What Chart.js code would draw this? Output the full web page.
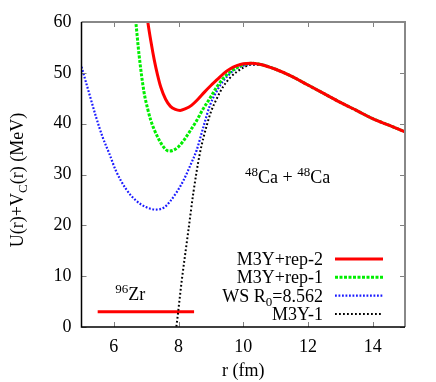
<!DOCTYPE html>
<html>
<head>
<meta charset="utf-8">
<script src="https://cdn.jsdelivr.net/npm/chart.js@4.4.1/dist/chart.umd.min.js"></script>
<style>
  html, body { margin: 0; padding: 0; background: #fff; }
</style>
</head>
<body>
<canvas id="chart" width="436" height="382"></canvas>
<script>
// DATA (r in fm, potential in MeV)
const rRep2 = [6.98, 7.05, 7.15, 7.25, 7.35, 7.45, 7.6, 7.75, 7.9, 8.05, 8.2, 8.4, 8.6, 8.8, 9.0, 9.2, 9.4, 9.6, 9.8, 10.0, 10.25, 10.5]
const vRep2 = [63.5, 60.0, 56.0, 52.5, 49.6, 47.2, 44.8, 43.4, 42.8, 42.6, 42.9, 43.6, 44.8, 46.2, 47.5, 48.7, 49.9, 50.8, 51.4, 51.8, 51.9, 51.7]

const rRep1 = [6.62, 6.68, 6.78, 6.93, 7.05, 7.14, 7.27, 7.4, 7.55, 7.7, 7.85, 8.0, 8.15, 8.35, 8.56, 8.75, 8.97, 9.18, 9.38, 9.6, 9.8, 10.0, 10.25, 10.5]
const vRep1 = [64.0, 60.0, 53.5, 46.3, 42.8, 40.7, 38.5, 36.8, 35.3, 34.6, 34.8, 35.5, 36.6, 38.5, 40.6, 42.8, 45.0, 47.2, 48.9, 50.2, 51.0, 51.6, 51.9, 51.7]

const rWS = [5.0, 5.24, 5.45, 5.65, 5.86, 6.06, 6.37, 6.68, 6.99, 7.3, 7.55, 7.75, 7.95, 8.15, 8.35, 8.56, 8.77, 8.97, 9.18, 9.38, 9.6, 9.8, 10.0, 10.25, 10.5]
const vWS = [51.2, 45.9, 41.3, 37.4, 34.1, 30.8, 27.2, 24.9, 23.6, 23.1, 23.5, 24.8, 26.6, 28.8, 31.6, 34.8, 39.4, 43.6, 46.4, 48.4, 49.9, 50.9, 51.4, 51.7, 51.7]

const rM3Y = [7.85, 7.93, 8.1, 8.3, 8.46, 8.66, 8.87, 9.0, 9.18, 9.38, 9.59, 9.8, 10.0, 10.25, 10.5]
const vM3Y = [-3.0, 0.0, 9.2, 18.8, 26.5, 34.2, 39.6, 42.3, 44.9, 47.3, 49.0, 50.2, 51.0, 51.6, 51.6]

// common Coulomb-dominated tail beyond the barrier
const rTail = [11.0, 11.5, 12.0, 12.5, 13.0, 13.5, 14.0, 14.5, 15.0]
const vTail = [50.7, 49.3, 47.6, 45.9, 44.2, 42.6, 41.0, 39.7, 38.4]

// 96Zr level
const rZr = [5.5, 8.48]
const vZr = [3.0, 3.0]

const seriesLabels = ['M3Y+rep-2', 'M3Y+rep-1', 'WS R_{0}=8.562', 'M3Y-1']
const xTicks = [6, 8, 10, 12, 14]
const yTicks = [0, 10, 20, 30, 40, 50, 60]
const xTitle = 'r (fm)'
const yTitle = 'U(r)+V_{C}(r) (MeV)'
const reactionText = '^{48}Ca + ^{48}Ca'
const reactionPos = [11.37, 28.3]
const zrText = '^{96}Zr'
const zrPos = [6.04, 5.3]


// UTILS
const FONT = '"Liberation Serif", "DejaVu Serif", serif'
const pts = (xs, ys) => xs.map((x, i) => ({x, y: ys[i]}))

const parseRich = s => {
    const out = []
    const re = /([_^])\{([^}]*)\}|([^_^]+)/g
    let m
    while ((m = re.exec(s))) {
        if (m[3] !== undefined) out.push({t: m[3], k: 'n'})
        else out.push({t: m[2], k: m[1] === '_' ? 'sub' : 'sup'})
    }
    return out
}

const drawRich = (ctx, s, x, y, size, align) => {
    const segs = parseRich(s)
    const font = k => (k === 'n' ? size : Math.round(size * 0.72)) + 'px ' + FONT
    let w = 0
    segs.forEach(g => { ctx.font = font(g.k); g.w = ctx.measureText(g.t).width; w += g.w })
    let cx = align === 'right' ? x - w : align === 'center' ? x - w / 2 : x
    ctx.textAlign = 'left'
    ctx.textBaseline = 'alphabetic'
    segs.forEach(g => {
        ctx.font = font(g.k)
        const dy = g.k === 'sup' ? -size * 0.38 : g.k === 'sub' ? size * 0.22 : 0
        ctx.fillText(g.t, cx, y + dy)
        cx += g.w
    })
}


// STYLES
const styles = [
    {color: '#ff0000', width: 3, dash: []},
    {color: '#00ee00', width: 3, dash: [3, 1.5]},
    {color: '#1a1aff', width: 2.2, dash: [1.8, 1.7]},
    {color: '#000000', width: 2, dash: [1.8, 2.2]},
]

const makeSet = (i, xs, ys) => ({
    label: seriesLabels[i],
    data: pts(xs.concat(rTail), ys.concat(vTail)),
    borderColor: styles[i].color,
    borderWidth: styles[i].width,
    borderDash: styles[i].dash,
    pointRadius: 0,
    fill: false,
    cubicInterpolationMode: 'monotone',
    clip: {left: 0, top: 0, right: 0, bottom: 0},
})


// DECORATION PLUGIN: frame, inward ticks, legend, labels
const deco = {
    id: 'deco',
    afterDatasetsDraw(chart) {
        const ctx = chart.ctx, a = chart.chartArea
        const xs = chart.scales.x, ys = chart.scales.y
        ctx.save()
        ctx.setLineDash([])
        // ticks
        ctx.strokeStyle = '#808080'
        ctx.lineWidth = 1
        ctx.beginPath()
        xs.ticks.forEach(t => {
            const px = Math.round(xs.getPixelForValue(t.value)) + 0.5
            ctx.moveTo(px, a.bottom); ctx.lineTo(px, a.bottom - 5)
            ctx.moveTo(px, a.top); ctx.lineTo(px, a.top + 5)
        })
        ys.ticks.forEach(t => {
            const py = Math.round(ys.getPixelForValue(t.value)) + 0.5
            ctx.moveTo(a.left, py); ctx.lineTo(a.left + 5, py)
            ctx.moveTo(a.right, py); ctx.lineTo(a.right - 5, py)
        })
        ctx.stroke()
        // frame: top/right grey, left/bottom black
        ctx.lineWidth = 2
        ctx.strokeStyle = '#888888'
        ctx.beginPath()
        ctx.moveTo(a.left, a.top); ctx.lineTo(a.right, a.top); ctx.lineTo(a.right, a.bottom)
        ctx.stroke()
        ctx.lineWidth = 1.5
        ctx.strokeStyle = '#000000'
        ctx.beginPath()
        ctx.moveTo(a.left, a.top); ctx.lineTo(a.left, a.bottom); ctx.lineTo(a.right, a.bottom)
        ctx.stroke()
        ctx.restore()
    },
    afterDraw(chart) {
        const ctx = chart.ctx, a = chart.chartArea
        const xs = chart.scales.x, ys = chart.scales.y
        ctx.save()
        ctx.fillStyle = '#000'

        // legend
        const textRight = a.right - 82, x0 = a.right - 70, x1 = a.right - 22
        seriesLabels.forEach((lab, i) => {
            const yy = a.bottom - 68 + i * 18.3
            drawRich(ctx, lab, textRight, yy + 6, 18, 'right')
            ctx.strokeStyle = styles[i].color
            ctx.lineWidth = styles[i].width
            ctx.setLineDash(styles[i].dash)
            ctx.beginPath()
            ctx.moveTo(x0, yy); ctx.lineTo(x1, yy)
            ctx.stroke()
        })
        ctx.setLineDash([])

        // annotations
        drawRich(ctx, reactionText, xs.getPixelForValue(reactionPos[0]), ys.getPixelForValue(reactionPos[1]), 18, 'center')
        drawRich(ctx, zrText, xs.getPixelForValue(zrPos[0]), ys.getPixelForValue(zrPos[1]), 18, 'left')

        // y title
        ctx.translate(23, 180)
        ctx.rotate(-Math.PI / 2)
        drawRich(ctx, yTitle, 0, 0, 18, 'center')
        ctx.restore()
    }
}


// MAIN
const ctx = document.getElementById('chart').getContext('2d')
window.chart = new Chart(ctx, {
    type: 'line',
    data: {
        datasets: [
            makeSet(0, rRep2, vRep2),
            makeSet(1, rRep1, vRep1),
            makeSet(2, rWS, vWS),
            makeSet(3, rM3Y, vM3Y),
            {
                label: '96Zr',
                data: pts(rZr, vZr),
                borderColor: '#ff0000',
                borderWidth: 3,
                pointRadius: 0,
                fill: false,
            },
        ]
    },
    options: {
        responsive: false,
        devicePixelRatio: 1,
        animation: false,
        layout: {padding: {top: 22, right: 31, left: 0, bottom: 0}},
        plugins: {legend: {display: false}, tooltip: {enabled: false}},
        scales: {
            x: {
                type: 'linear', min: 5, max: 15,
                afterBuildTicks: s => { s.ticks = xTicks.map(v => ({value: v})) },
                afterFit: s => { s.height = 55 },
                grid: {display: false, drawTicks: false},
                border: {display: false},
                ticks: {color: '#000', padding: 9, font: {family: FONT, size: 18}},
                title: {display: true, text: xTitle, color: '#000', padding: {top: 0, bottom: 0}, font: {family: FONT, size: 18}},
            },
            y: {
                type: 'linear', min: 0, max: 60,
                afterBuildTicks: s => { s.ticks = yTicks.map(v => ({value: v})) },
                afterFit: s => { s.width = 81.5 },
                grid: {display: false, drawTicks: false},
                border: {display: false},
                ticks: {color: '#000', padding: 10, font: {family: FONT, size: 18}},
            },
        },
    },
    plugins: [deco],
})
</script>
</body>
</html>
